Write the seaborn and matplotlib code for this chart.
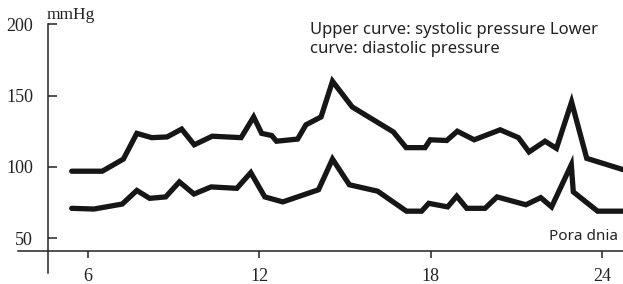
import matplotlib
matplotlib.use("Agg")
import matplotlib.pyplot as plt
import seaborn as sns
import pandas as pd

# hour of day / blood pressure readings (mmHg)
sys_hours = [5.43, 6.50, 7.24, 7.71, 8.23, 8.77, 9.28, 9.72, 10.35, 11.36, 11.80, 12.08,
             12.43, 12.60, 13.34, 13.63, 14.16, 14.56, 15.25, 16.69, 17.14, 17.80, 17.98,
             18.56, 18.93, 19.52, 20.43, 21.07, 21.44, 22.00, 22.40, 22.93, 23.46, 24.75]
sys_vals = [97, 97, 105.5, 123.5, 120.5, 121, 126.5, 115.5, 121.5, 120.5, 135, 123.5,
            122, 118, 119.5, 129.5, 135, 160, 142, 124.5, 113.5, 113.5, 119,
            118.5, 125, 119, 126, 120.5, 110.5, 118, 113, 145.5, 106, 98]

dia_hours = [5.43, 6.21, 7.20, 7.71, 8.16, 8.72, 9.20, 9.71, 10.31, 11.21, 11.70, 12.19,
             12.82, 14.07, 14.56, 15.15, 16.14, 17.15, 17.68, 17.93, 18.59, 18.91, 19.26,
             19.90, 20.32, 21.33, 21.85, 22.23, 22.92, 22.99, 23.84, 24.75]
dia_vals = [71, 70.5, 74, 83.5, 78, 79, 89.5, 81, 86, 85, 96, 79,
            75.5, 84, 105.5, 87.5, 83, 69, 69, 74.5, 72, 79.5, 71,
            71, 79, 73.5, 78.5, 72, 101.5, 82.5, 69, 69]

x_ticks = [6, 12, 18, 24]
y_ticks = [50, 100, 150, 200]

sys_df = pd.DataFrame({"hour": sys_hours, "mmHg": sys_vals})
dia_df = pd.DataFrame({"hour": dia_hours, "mmHg": dia_vals})

sns.set_style("white")
plt.rcParams["font.family"] = ["Liberation Serif", "DejaVu Serif"]

fig = plt.figure(figsize=(6.23, 2.84), dpi=100)
ax = fig.add_axes([0, 0, 1, 1])
ax.patch.set_alpha(0)

line_kw = dict(color="#161616", linewidth=3.8, estimator=None, sort=False, legend=False)
for df in (sys_df, dia_df):
    sns.lineplot(data=df, x="hour", y="mmHg", ax=ax, **line_kw)
for ln in ax.lines:
    ln.set_solid_joinstyle("miter")

ax.set_xlim(2.92, 24.73)
ax.set_ylim(18.0, 216.9)

# crossed axes
ax.spines["top"].set_visible(False)
ax.spines["right"].set_visible(False)
ax.spines["left"].set_position(("data", 4.615))
ax.spines["bottom"].set_position(("data", 41))
ax.spines["left"].set_bounds(25.9, 200)
ax.spines["bottom"].set_bounds(3.55, 24.73)
for s in ("left", "bottom"):
    ax.spines[s].set_color("#222222")
    ax.spines[s].set_linewidth(1.1)

ax.set_xticks(x_ticks)
ax.set_yticks(y_ticks)
ax.tick_params(axis="y", direction="in", length=6.5, width=1.1, pad=11,
               labelsize=13, colors="#222222", left=True)
ax.tick_params(axis="x", direction="out", length=5, width=1.1, pad=7,
               labelsize=13, colors="#222222", bottom=True)
ax.set_xlabel("")
ax.set_ylabel("")
ax.grid(False)

ax.text(47 / 623, 1 - 19 / 284, "mmHg", transform=ax.transAxes, ha="left",
        va="baseline", fontsize=12.5, color="#222222")
ax.text(310 / 623, 1 - 22 / 284,
        "Upper curve: systolic pressure Lower\ncurve: diastolic pressure",
        transform=ax.transAxes, ha="left", va="top", fontsize=12,
        family=["Noto Sans", "DejaVu Sans"], color="#222222", linespacing=1.25)
ax.text(618 / 623, 1 - 237 / 284, "Pora dnia", transform=ax.transAxes,
        ha="right", va="center", fontsize=11,
        family=["Noto Sans", "DejaVu Sans"], color="#222222")

fig.savefig("out.png", dpi=100)
